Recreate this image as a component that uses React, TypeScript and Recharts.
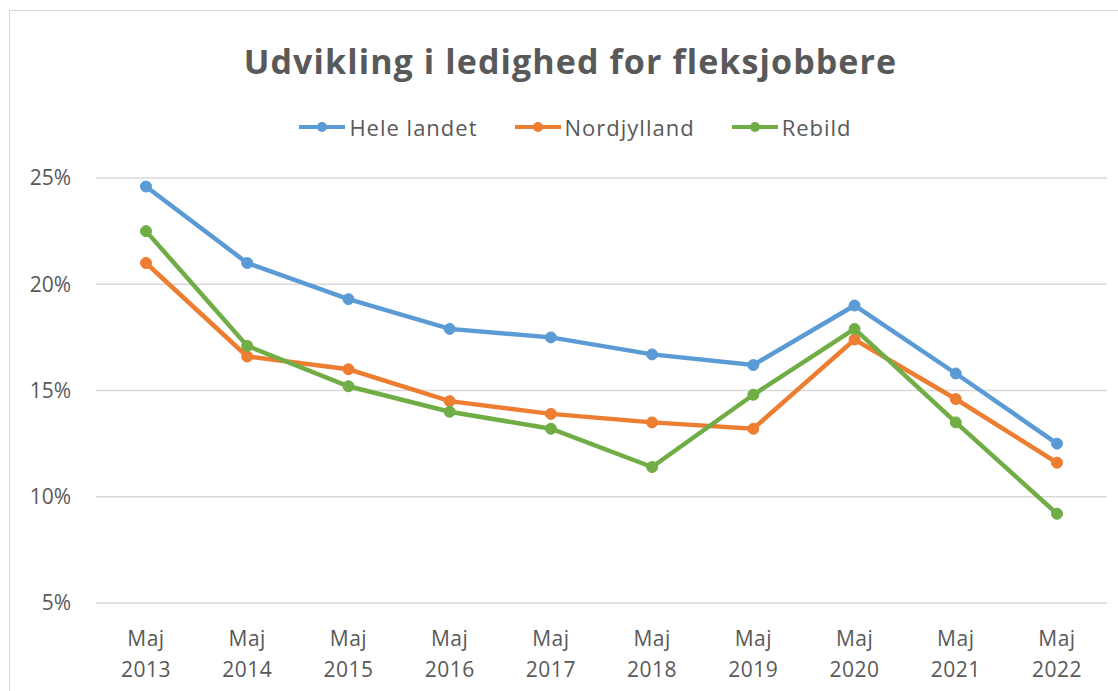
import { LineChart, Line, XAxis, YAxis, CartesianGrid } from 'recharts';

// kategorier og serier (ledighed i %)
const months = ['Maj', 'Maj', 'Maj', 'Maj', 'Maj', 'Maj', 'Maj', 'Maj', 'Maj', 'Maj'];
const years = ['2013', '2014', '2015', '2016', '2017', '2018', '2019', '2020', '2021', '2022'];
const heleLandet = [24.6, 21.0, 19.3, 17.9, 17.5, 16.7, 16.2, 19.0, 15.8, 12.5];
const nordjylland = [21.0, 16.6, 16.0, 14.5, 13.9, 13.5, 13.2, 17.4, 14.6, 11.6];
const rebild = [22.5, 17.1, 15.2, 14.0, 13.2, 11.4, 14.8, 17.9, 13.5, 9.2];
const yTicks = [5, 10, 15, 20, 25];

const series = [
    { key: 'hele', name: 'Hele landet', color: '#5B9BD5' },
    { key: 'nord', name: 'Nordjylland', color: '#ED7D31' },
    { key: 'rebild', name: 'Rebild', color: '#70AD47' },
];

const data = years.map((year, i) => ({
    label: `${months[i]} ${year}`,
    month: months[i],
    year,
    hele: heleLandet[i],
    nord: nordjylland[i],
    rebild: rebild[i],
}));

const FONT = '"Open Sans", "Liberation Sans", sans-serif';
const TEXT = '#595959';

// to-linjet x-akse label: "Maj" over årstal
const XTick = (props: any) => {
    const { x, y, payload } = props;
    const d = data[payload.index];
    return (
        <g>
            <text x={x} y={y + 35} textAnchor="middle" fill={TEXT} fontSize={21} fontFamily={FONT} letterSpacing={0.5}>
                {d ? d.month : ''}
            </text>
            <text x={x} y={y + 66} textAnchor="middle" fill={TEXT} fontSize={21} fontFamily={FONT} letterSpacing={0.5}>
                {d ? d.year : ''}
            </text>
        </g>
    );
};

const App = () => {
    return (
        <div style={{ position: 'absolute', left: 0, top: 0, width: 1118, height: 691, overflow: 'hidden', background: '#fff' }}>
            {/* ramme om diagrammet */}
            <div style={{ position: 'absolute', left: 9, top: 10, width: 1140, height: 720, border: '1.5px solid #d9d9d9' }} />

            <div style={{
                position: 'absolute', left: 0, top: 37, width: 1141, textAlign: 'center',
                fontFamily: FONT, fontWeight: 700, fontSize: 34, color: TEXT, lineHeight: '48px', letterSpacing: 1.1,
            }}>
                Udvikling i ledighed for fleksjobbere
            </div>

            {/* legende */}
            <div style={{
                position: 'absolute', left: 0, top: 110, width: 1150, display: 'flex', justifyContent: 'center',
                fontFamily: FONT, fontSize: 22, color: TEXT, lineHeight: '34px', letterSpacing: 1,
            }}>
                {series.map(s => (
                    <div key={s.key} style={{ display: 'flex', alignItems: 'center', margin: '0 18px' }}>
                        <svg width={48} height={14} style={{ marginRight: 3 }}>
                            <line x1={1} y1={7} x2={47} y2={7} stroke={s.color} strokeWidth={4} />
                            <circle cx={24} cy={7} r={5} fill={s.color} />
                        </svg>
                        <span>{s.name}</span>
                    </div>
                ))}
            </div>

            <div style={{ position: 'absolute', left: 0, top: 0 }}>
                <LineChart width={1118} height={691} data={data} margin={{ top: 178, right: 11, bottom: 0, left: 10 }}>
                    <CartesianGrid horizontal vertical={false} stroke="#d9d9d9" strokeWidth={1.5} />
                    <XAxis
                        dataKey="label"
                        interval={0}
                        axisLine={false}
                        tickLine={false}
                        padding={{ left: 50, right: 50 }}
                        height={88}
                        tick={<XTick />}
                    />
                    <YAxis
                        width={86}
                        domain={[5, 25]}
                        ticks={yTicks}
                        interval={0}
                        axisLine={false}
                        tickLine={false}
                        tickMargin={19}
                        tickFormatter={(v: number) => `${v}%`}
                        tick={{ fill: TEXT, fontSize: 21, fontFamily: FONT }}
                    />
                    {series.map(s => (
                        <Line
                            key={s.key}
                            type="linear"
                            dataKey={s.key}
                            name={s.name}
                            stroke={s.color}
                            strokeWidth={4.5}
                            dot={{ r: 5.5, fill: s.color, stroke: s.color, strokeWidth: 1 }}
                            activeDot={false}
                            isAnimationActive={false}
                        />
                    ))}
                </LineChart>
            </div>
        </div>
    );
};

export default App;
